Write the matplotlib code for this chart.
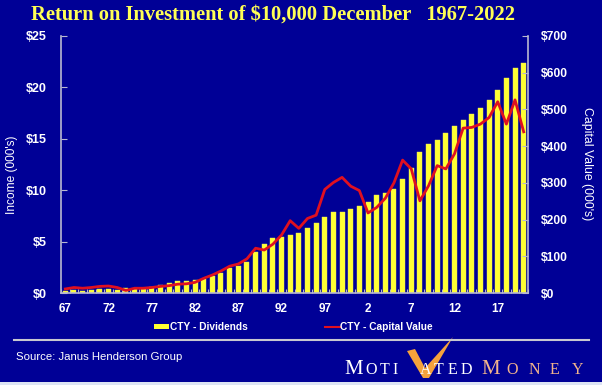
import matplotlib
matplotlib.use("Agg")
import matplotlib.pyplot as plt
from matplotlib.patches import Rectangle, Polygon
from matplotlib.lines import Line2D
import numpy as np

years = list(range(1967, 2021))
dividends = [0.2, 0.26, 0.24, 0.26, 0.36, 0.36, 0.3, 0.49, 0.42, 0.42,
             0.55, 0.75, 0.94, 1.14, 1.2, 1.26, 1.4, 1.65, 1.98, 2.4,
             2.63, 2.98, 3.96, 4.8, 5.32, 5.48, 5.61, 5.87, 6.29, 6.8,
             7.42, 7.85, 7.85, 8.17, 8.46, 8.82, 9.5, 9.76, 10.15, 11.06,
             12.13, 13.7, 14.5, 14.9, 15.6, 16.2, 16.8, 17.4, 18.0, 18.8,
             19.7, 20.9, 21.9, 22.4]
capital_value = [11, 15, 13, 15, 18, 19, 15, 7, 13, 13,
                 15, 18, 20, 24, 25, 29, 40, 49, 60, 73,
                 79, 93, 122, 117, 133, 158, 197, 176, 203, 212,
                 282, 301, 315, 291, 279, 218, 233, 258, 300, 362,
                 338, 251, 292, 347, 338, 379, 449, 451, 460, 478,
                 521, 460, 526, 439]
tick_years = [1967, 1972, 1977, 1982, 1987, 1992, 1997, 2002, 2007, 2012, 2017]
tick_labels = ['67', '72', '77', '82', '87', '92', '97', '2', '7', '12', '17']
left_ticks = [0, 5, 10, 15, 20, 25]
left_labels = ['$0', '$5', '$10', '$15', '$20', '$25']
right_ticks = [0, 100, 200, 300, 400, 500, 600, 700]
right_labels = ['$0', '$100', '$200', '$300', '$400', '$500', '$600', '$700']

W, H = 602, 385
BG = '#000096'
YEL = '#FFFF33'
RED = '#E01020'
SPINE = '#B8B8D0'
FONT = 'Liberation Sans'

def fx(x):
    return x / W

def fy(y):
    return 1 - y / H

fig = plt.figure(figsize=(W / 100, H / 100), dpi=100, facecolor=BG)

ax = fig.add_axes([fx(61), fy(293), fx(528) - fx(61), fy(36) - fy(293)])
ax.set_facecolor(BG)
ax.bar(years, dividends, width=0.58, color=YEL, edgecolor='#E8E860', linewidth=0.3, zorder=2)
ax.set_xlim(1966.5, 2020.5)
ax.set_ylim(0, 25)
ax.set_yticks(left_ticks)
ax.set_yticklabels(left_labels)
ax.set_xticks(tick_years)
ax.set_xticklabels(tick_labels)
ax.set_xticks(np.arange(1966.5, 2021, 1.0), minor=True)
ax.tick_params(axis='x', which='major', length=0, pad=7, labelsize=8.5, labelcolor='white')
ax.tick_params(axis='x', which='minor', length=3, direction='in', color=SPINE, width=0.8)
ax.tick_params(axis='y', length=4, direction='in', color=SPINE, width=0.8, pad=10,
               labelsize=9, labelcolor='white')
for lab in ax.get_xticklabels() + ax.get_yticklabels():
    lab.set_fontfamily(FONT)
    lab.set_fontweight('bold')
for s in ['top', 'right']:
    ax.spines[s].set_visible(False)
for s in ['left', 'bottom']:
    ax.spines[s].set_color(SPINE)
    ax.spines[s].set_linewidth(1.2)

ax2 = ax.twinx()
ax2.plot(years, capital_value, color=RED, lw=2.0, zorder=3)
ax2.set_ylim(0, 700)
ax2.set_yticks(right_ticks)
ax2.set_yticklabels(right_labels)
ax2.tick_params(axis='y', length=4, direction='in', color=SPINE, width=0.8, pad=9,
                labelsize=8.7, labelcolor='white')
for lab in ax2.get_yticklabels():
    lab.set_fontfamily(FONT)
    lab.set_fontweight('bold')
for s in ['top', 'left', 'bottom']:
    ax2.spines[s].set_visible(False)
ax2.spines['right'].set_color(SPINE)
ax2.spines['right'].set_linewidth(1.2)

# title
fig.text(fx(273), fy(15), 'Return on Investment of $10,000 December   1967-2022',
         ha='center', va='center', color='#FFFF55', fontsize=14.8, fontweight='bold',
         family='Liberation Serif')

# axis labels
fig.text(fx(12), fy(175), "Income (000's)", rotation=90, ha='center', va='center',
         color='white', fontsize=8.6, family=FONT)
fig.text(fx(587), fy(164), "Capital Value (000's)", rotation=-90, ha='center', va='center',
         color='white', fontsize=8.8, family=FONT)

# legend
fig.patches.append(Rectangle((fx(154), fy(329)), fx(15), fy(324) - fy(329),
                             transform=fig.transFigure, facecolor=YEL, edgecolor='none'))
fig.text(fx(170), fy(326.5), 'CTY - Dividends', ha='left', va='center', color='white',
         fontsize=7.3, fontweight='bold', family=FONT)
fig.lines.append(Line2D([fx(325), fx(340)], [fy(326.5), fy(326.5)], transform=fig.transFigure,
                        color=RED, lw=1.5))
fig.text(fx(340), fy(326.5), 'CTY - Capital Value', ha='left', va='center', color='white',
         fontsize=7.3, fontweight='bold', family=FONT)

# separator
fig.lines.append(Line2D([fx(14), fx(589)], [fy(339.5), fy(339.5)], transform=fig.transFigure,
                        color='#C8C8D0', lw=1.5))

# source
fig.text(fx(16), fy(357), 'Source: Janus Henderson Group', ha='left', va='center',
         color='white', fontsize=8.2, family=FONT)

# logo
PEACH = '#F2B48C'
logo_letters = [('M', 354, 'big', 'white'), ('O', 371.5, 'small', 'white'),
                ('T', 384.5, 'small', 'white'), ('I', 395, 'small', 'white'),
                ('A', 426, 'small', 'white'), ('T', 439, 'small', 'white'),
                ('E', 452, 'small', 'white'), ('D', 466, 'small', 'white'),
                ('M', 491, 'big', PEACH), ('O', 512.5, 'small', PEACH),
                ('N', 534, 'small', PEACH), ('E', 554, 'small', PEACH),
                ('Y', 578, 'small', PEACH)]
for ch, xc, sz, col in logo_letters:
    fig.text(fx(xc), fy(373.5), ch, ha='center', va='baseline', color=col,
             fontsize=15 if sz == 'big' else 11.5, family='Liberation Serif')
check = [(407, 351), (415, 349), (425, 368), (453, 337), (429, 378), (423, 378)]
fig.patches.append(Polygon([(fx(a), fy(b)) for a, b in check], closed=True,
                           transform=fig.transFigure, facecolor='#F5A23C', edgecolor='none'))

# bottom strip
fig.patches.append(Rectangle((0, 0), 1, fy(382), transform=fig.transFigure,
                             facecolor='#DDE4F4', edgecolor='none'))

fig.savefig('out.png', dpi=100, facecolor=BG)
